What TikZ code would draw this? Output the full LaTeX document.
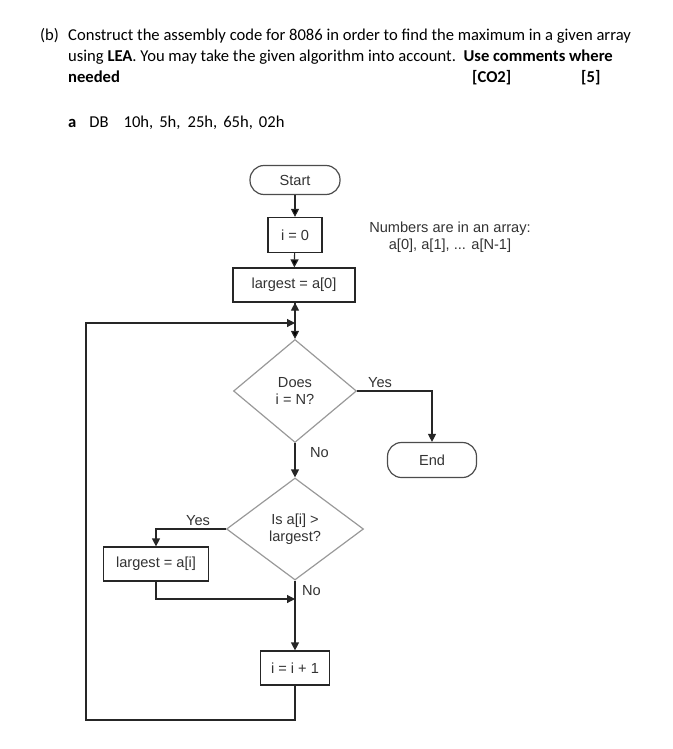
\documentclass[tikz,border=0pt]{standalone}
\usepackage{fontspec}
\setmainfont{Carlito}
\newfontfamily\chartfont{Liberation Sans}
\usetikzlibrary{shapes.geometric,arrows.meta}
\newcommand{\qtext}{\fontsize{16.6}{20.5}\selectfont}
\newcommand{\ctext}{\chartfont\fontsize{14.6}{17}\selectfont}

\begin{document}
\begin{tikzpicture}[x=1pt, y=-1pt,
		line/.style={line width=1.2pt, draw=black!85},
		arrow/.style={line, -{Triangle[width=8pt,length=8pt]}},
		proc/.style={draw=black!85, line width=1.2pt, fill=white, font=\ctext, text=black!80, inner sep=0pt},
		term/.style={proc, draw=black!70, rounded corners=14pt},
		test/.style={diamond, draw=black!40, line width=1.2pt, font=\ctext, text=black!80, align=center, inner sep=0pt},
		lbl/.style={font=\ctext, text=black!80, inner sep=0pt},
		qline/.style={font=\qtext, anchor=base west, inner sep=0pt}]
	\useasboundingbox (0,0) rectangle (672,749);

	% question text
	\node[qline] (qb) at (40,41) {(b)};
	\node[qline] (q1) at (68,41) {Construct the assembly code for 8086 in order to find the maximum in a given array};
	\node[qline] (q2) at (68,62) {using \textbf{LEA}. You may take the given algorithm into account.\ \ \textbf{Use comments where}};
	\node[qline] (q3) at (68,83) {\textbf{needed}};
	\node[qline] (co) at (472,83) {\textbf{[CO2]}};
	\node[qline] (mk) at (581,83) {\textbf{[5]}};
	\node[qline] (db) at (68,128) {\textbf{a}\hspace{13pt}DB\hspace{15pt}10h,\hspace{6pt}5h,\hspace{7pt}25h,\hspace{6pt}65h,\hspace{6pt}02h};

	% flowchart
	\node[term, minimum width=90pt, minimum height=29pt] (start) at (295,180) {Start};
	\node[proc, minimum width=54pt, minimum height=35pt] (init) at (295,235) {i = 0};
	\node[proc, minimum width=122pt, minimum height=34pt] (first) at (294,285) {largest = a[0]};
	\node[lbl, align=center] (note) at (450,237) {Numbers are in an array:\\a[0], a[1], ... a[N-1]};
	\node[test, minimum width=123pt, minimum height=103pt] (check) at (295,391) {Does\\i = N?};
	\node[term, minimum width=89pt, minimum height=35pt] (stop) at (432,460) {End};
	\node[test, minimum width=137pt, minimum height=102pt] (compare) at (295,529) {Is a[i] >\\largest?};
	\node[proc, minimum width=105pt, minimum height=34pt] (update) at (156,564) {largest = a[i]};
	\node[proc, minimum width=69pt, minimum height=34pt] (incr) at (295,668) {i = i + 1};

	\coordinate (loopin) at (295,323);
	\coordinate (merge) at (295,599);
	\coordinate (loopout) at (295,720);

	\path[arrow]
	(start) edge (init)
	(init) edge (first)
	(first.south -| check.north) edge (check.north);
	\draw[arrow] (check.east) -| (stop.north);
	\draw[arrow] (check.south) -- (compare.north);
	\draw[arrow] (compare.west) -| (update.north);
	\draw[arrow] (compare.south) -- (incr.north);
	\draw[arrow] (update.south) |- (merge);
	\draw[arrow] (incr.south) -- (loopout) -| (86,323) -- (loopin);

	\node[lbl, anchor=base west] (yes1) at (368,387) {Yes};
	\node[lbl, anchor=base west] (no1) at (310,457) {No};
	\node[lbl, anchor=base west] (yes2) at (186,525) {Yes};
	\node[lbl, anchor=base west] (no2) at (302,595) {No};
\end{tikzpicture}
\end{document}
